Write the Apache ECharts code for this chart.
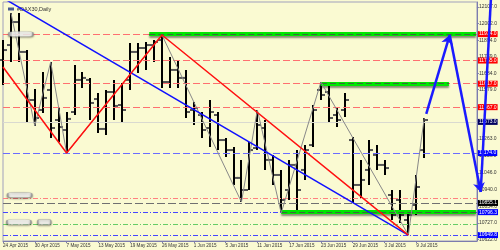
<!DOCTYPE html>
<html><head><meta charset="utf-8">
<script src="https://cdn.jsdelivr.net/npm/echarts@6/dist/echarts.min.js"></script>
<style>html,body{margin:0;padding:0;background:#FAFAD2}#c{width:500px;height:250px}</style>
</head><body><div id="c"></div>
<script>
// ---- data ----
const dates = ['24 Apr 2015','27 Apr 2015','28 Apr 2015','29 Apr 2015','30 Apr 2015','4 May 2015','5 May 2015','6 May 2015','7 May 2015','8 May 2015','11 May 2015','12 May 2015','13 May 2015','14 May 2015','15 May 2015','18 May 2015','19 May 2015','20 May 2015','21 May 2015','22 May 2015','26 May 2015','27 May 2015','28 May 2015','29 May 2015','1 Jun 2015','2 Jun 2015','3 Jun 2015','4 Jun 2015','5 Jun 2015','8 Jun 2015','9 Jun 2015','10 Jun 2015','11 Jun 2015','12 Jun 2015','15 Jun 2015','16 Jun 2015','17 Jun 2015','18 Jun 2015','19 Jun 2015','22 Jun 2015','23 Jun 2015','24 Jun 2015','25 Jun 2015','26 Jun 2015','29 Jun 2015','30 Jun 2015','1 Jul 2015','2 Jul 2015','3 Jul 2015','6 Jul 2015','7 Jul 2015','8 Jul 2015','9 Jul 2015','10 Jul 2015'];
const open  = [11769,11864,12011,11820,11513,11449,11577,11385,11321,11436,11641,11641,11519,11328,11564,11481,11641,11820,11845,11864,11896,11628,11705,11654,11449,11417,11334,11417,11257,11193,11015,10938,11206,11334,11130,11034,10938,11098,11066,11225,11577,11564,11417,11449,11257,10970,11066,11162,11098,10906,10874,10746,10842,11193];
const high  = [11896,12069,12069,11832,11583,11692,11756,11462,11436,11737,11692,11654,11558,11577,11641,11622,11877,11877,11884,11896,11928,11788,11769,11705,11500,11436,11513,11436,11270,11213,11130,11245,11449,11385,11162,11066,11130,11193,11225,11481,11628,11609,11468,11558,11277,11130,11257,11225,11130,10938,10938,10797,11034,11398];
const low   = [11609,11756,11756,11366,11347,11430,11270,11245,11174,11417,11590,11385,11302,11289,11385,11372,11577,11686,11705,11756,11590,11590,11590,11398,11353,11270,11213,11193,11149,10970,10861,10938,11193,11066,10970,10791,10874,10797,11002,11213,11513,11366,11340,11404,10855,10887,10970,11066,11034,10746,10727,10650,10778,11142];
const close = [11832,12011,11820,11513,11398,11526,11334,11340,11392,11641,11654,11494,11328,11564,11475,11449,11820,11845,11864,11884,11628,11705,11654,11436,11462,11321,11436,11257,11193,11015,10938,11193,11353,11130,11034,10874,11098,10938,11193,11449,11545,11398,11385,11513,10970,11002,11193,11098,11078,10778,10778,10778,10957,11385];
const dateTickIdx = [0,4,8,12,16,20,24,28,32,36,40,44,48,52];
const priceTicks = [10622,10727,10834,10940,11046,11158,11263,11368,11473,11579,11684,11789,11894,12002,12107];
const resistLevels = [11934, 11765, 11617, 11467];   // red dashed
const bidLevel = 11373;
const supportLevel = 11174;                          // blue dashed
const redDotLevel = 10887;
const grayLevel = 10855.1;
const blueDotLevels = [10796.3, 10649.8];
const greenDotLevel = 10720;
const greenZones = [[18.4, 59.5, 11934], [40, 56.1, 11617], [35, 59.5, 10796.3]];
const blueTrend = [[0, 12165], [51, 10650]];
const redTrend = [[0, 11724], [8, 11174], [20, 11928], [51, 10650]];
const zigzag = [[1,12069],[4,11347],[6,11756],[8,11174],[20,11928],[30,10861],[32,11449],[35,10791],[40,11628],[51,10650],[53,11398]];
const forecast = [[53.25, 11424], [56.2, 11928], [60.1, 10925], [61.4, 12175]];
const tags = [[2.25, 11934], [2.1, 10906], [2.0, 10733], [5.2, 10733]];

// ---- chart ----
const FONT = '"Liberation Sans", Arial, sans-serif';
const chart = echarts.init(document.getElementById('c'));
const ohlc = dates.map((d, i) => [i, open[i], high[i], low[i], close[i]]);
const lvl = (v, style, bg) => ({
  yAxis: v, lineStyle: style,
  label: bg ? {show: true, position: 'end', distance: 1, formatter: v.toFixed(1), fontSize: 5, fontFamily: FONT,
               color: '#fff', backgroundColor: bg, padding: [1, 1, 0, 1]} : {show: false}
});
const redDash = {color: '#ff7070', width: 1, type: [7, 3]};
const dashDot = c => ({color: c, width: 1, type: [5, 2, 1, 2]});

const levelData = [
  ...resistLevels.map(v => lvl(v, redDash, '#ff0000')),
  lvl(bidLevel, {color: '#d9d9d0', width: 1, type: 'solid'}, '#000060'),
  lvl(supportLevel, {color: '#6b6bff', width: 1, type: [7, 3]}, '#0000ff'),
  lvl(redDotLevel, dashDot('#ff8080')),
  lvl(grayLevel, {color: '#707070', width: 1, type: [8, 3]}, '#000000'),
  ...blueDotLevels.map(v => lvl(v, dashDot('#4646ff'), '#0000ff')),
  lvl(greenDotLevel, dashDot('#66cc66'))
];

const option = {
  backgroundColor: '#FAFAD2',
  animation: false,
  title: {text: '{i|}  #DAX30,Daily', left: 3, top: 1,
    textStyle: {fontSize: 5.5, color: '#333', fontWeight: 'normal', fontFamily: FONT,
      rich: {i: {width: 6, height: 3, backgroundColor: '#4a5a90'}}}},
  grid: {left: 2, right: 21, top: 2, bottom: 9, show: true, borderColor: '#a0a0bc', borderWidth: 1},
  xAxis: {
    type: 'value', min: 0, max: 59.625, splitLine: {show: false},
    axisLine: {show: true, onZero: false, lineStyle: {color: '#7c7cae'}},
    axisTick: {show: true, customValues: dateTickIdx, length: 2, lineStyle: {color: '#7c7cae'}},
    axisLabel: {customValues: dateTickIdx, formatter: v => dates[v] || '', fontSize: 4.6, color: '#333',
      align: 'left', margin: 2, fontFamily: FONT}
  },
  yAxis: {
    type: 'value', position: 'right', min: 10612, max: 12139, splitLine: {show: false},
    axisLine: {show: true, onZero: false, lineStyle: {color: '#7c7cae'}},
    axisTick: {show: true, customValues: priceTicks, length: 2, lineStyle: {color: '#7c7cae'}},
    axisLabel: {customValues: priceTicks, formatter: v => v.toFixed(1), fontSize: 5, color: '#333', margin: 2, fontFamily: FONT}
  },
  series: [
    { type: 'custom', z: 2, data: ohlc, encode: {x: 0, y: [1, 2, 3, 4]},
      renderItem: (p, api) => {
        const i = api.value(0);
        const o = api.coord([i, api.value(1)]), h = api.coord([i, api.value(2)]);
        const l = api.coord([i, api.value(3)]), c = api.coord([i, api.value(4)]);
        const x = Math.round(h[0]);
        return {type: 'group', children: [
          {type: 'line', shape: {x1: x, y1: h[1], x2: x, y2: l[1]}, style: {stroke: '#000', lineWidth: 2}},
          {type: 'line', shape: {x1: x - 4, y1: o[1], x2: x - 1, y2: o[1]}, style: {stroke: '#555', lineWidth: 2}},
          {type: 'line', shape: {x1: x + 1, y1: c[1], x2: x + 4, y2: c[1]}, style: {stroke: '#555', lineWidth: 2}}
        ]};
      }
    },
    { type: 'line', z: 3, data: [], markLine: {silent: true, symbol: ['none', 'none'], animation: false, data: levelData} },
    { type: 'line', z: 4, data: [], markLine: {silent: true, symbol: ['none', 'none'], animation: false,
        label: {show: false},
        data: greenZones.flatMap(z => [
          [{coord: [z[0], z[2]], lineStyle: {color: '#00e600', width: 4, type: 'solid', shadowColor: 'rgba(0,0,0,0.45)', shadowBlur: 2, shadowOffsetY: 2}}, {coord: [z[1], z[2]]}],
          [{coord: [z[0], z[2]], lineStyle: {color: '#3c6a3c', width: 1.2, type: [6, 3]}}, {coord: [z[1], z[2]]}]
        ])} },
    { type: 'line', z: 5, data: zigzag, symbol: 'none', lineStyle: {color: '#888', width: 1} },
    { type: 'line', z: 6, data: blueTrend, symbol: 'none', lineStyle: {color: '#1010ff', width: 1.5} },
    { type: 'line', z: 6, data: redTrend, symbol: 'none', lineStyle: {color: '#ff1010', width: 1.5} },
    { type: 'lines', coordinateSystem: 'cartesian2d', z: 8, clip: false, polyline: false,
      lineStyle: {color: '#1a1aff', width: 2.5, opacity: 1},
      data: [
        {coords: [forecast[0], forecast[1]], symbol: ['none', 'arrow'], symbolSize: 9},
        {coords: [forecast[1], forecast[2]], symbol: ['none', 'arrow'], symbolSize: 9},
        {coords: [forecast[2], forecast[3]], symbol: ['none', 'none']}
      ],
      symbol: ['none', 'arrow'], symbolSize: 9 },
    { type: 'scatter', z: 9, data: tags, symbol: 'roundRect', symbolSize: (v, p) => p.dataIndex === 3 ? [13, 5] : [24, 5],
      itemStyle: {color: '#fff', borderColor: '#999', borderWidth: 0.8, shadowColor: 'rgba(0,0,0,0.5)', shadowBlur: 2, shadowOffsetY: 1} }
  ]
};
chart.setOption(option);
</script></body></html>
